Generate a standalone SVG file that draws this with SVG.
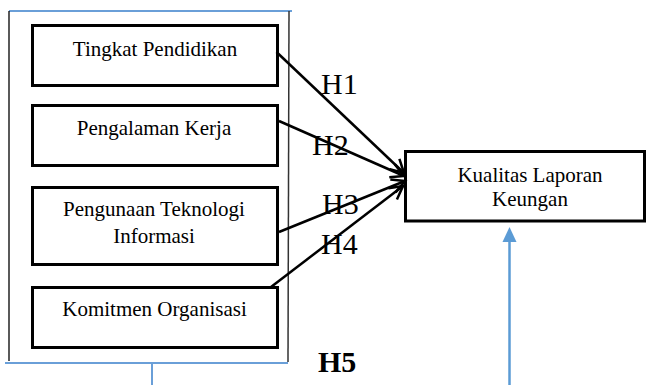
<svg xmlns="http://www.w3.org/2000/svg" width="646" height="385" viewBox="0 0 646 385">
<style>
.box{fill:#fff;stroke:#000;stroke-width:3}
.t{font-family:"Liberation Serif","Times New Roman",serif;font-size:21px;fill:#000;text-anchor:middle}
.h{font-family:"Liberation Serif","Times New Roman",serif;font-size:30px;fill:#000}
.conn{fill:none;stroke:#000;stroke-width:2.5}
.blue{stroke:#6A9FD8;stroke-width:2;fill:none}
</style>
<defs>
<marker id="open" markerWidth="16" markerHeight="16" refX="14" refY="8" orient="auto" markerUnits="userSpaceOnUse" overflow="visible">
<path d="M1,1 L14,8 L1,15" fill="none" stroke="#000" stroke-width="2.5"/>
</marker>
</defs>
<rect width="646" height="385" fill="#fff"/>
<g id="frame">
<line x1="9" y1="11" x2="292" y2="11" class="blue"/>
<line x1="9" y1="11" x2="9" y2="361" stroke="#000" stroke-width="1.3"/>
<line x1="289" y1="11" x2="288" y2="362" stroke="#333" stroke-width="1.5"/>
<line x1="5" y1="363" x2="288" y2="363" class="blue"/>
<line x1="152" y1="363" x2="152" y2="385" class="blue"/>
</g>
<g id="n1">
<rect class="box" x="32.5" y="25.5" width="245" height="60"/>
<text class="t" x="155" y="56">Tingkat Pendidikan</text>
</g>
<g id="n2">
<rect class="box" x="32.5" y="105.5" width="245" height="60"/>
<text class="t" x="154" y="135">Pengalaman Kerja</text>
</g>
<g id="n3">
<rect class="box" x="32.5" y="187.5" width="245" height="77"/>
<text class="t" x="154" y="216">Pengunaan Teknologi</text>
<text class="t" x="154" y="243">Informasi</text>
</g>
<g id="n4">
<rect class="box" x="32.5" y="287.5" width="245" height="60"/>
<text class="t" x="154.5" y="316">Komitmen Organisasi</text>
</g>
<g id="n5">
<rect class="box" x="405.5" y="151.5" width="239" height="69.5"/>
<text class="t" x="530" y="182">Kualitas Laporan</text>
<text class="t" x="530" y="206">Keungan</text>
</g>
<g id="connectors">
<path class="conn" d="M276.5,52 L404,173" marker-end="url(#open)"/>
<path class="conn" d="M279,121 L404,176" marker-end="url(#open)"/>
<path class="conn" d="M279,232 L405,181" marker-end="url(#open)"/>
<path class="conn" d="M271,287 L403,186" marker-end="url(#open)"/>
<line x1="509.5" y1="385" x2="509.5" y2="240" stroke="#5B9BD5" stroke-width="2.5"/>
<path d="M509.5,227 L516.5,242 L502.5,242 Z" fill="#5B9BD5"/>
</g>
<g id="labels">
<text class="h" x="321" y="94">H1</text>
<text class="h" x="312" y="155">H2</text>
<text class="h" x="322" y="214">H3</text>
<text class="h" x="321" y="254">H4</text>
<text class="h" x="318" y="372" font-weight="bold" font-size="29">H5</text>
</g>
</svg>
